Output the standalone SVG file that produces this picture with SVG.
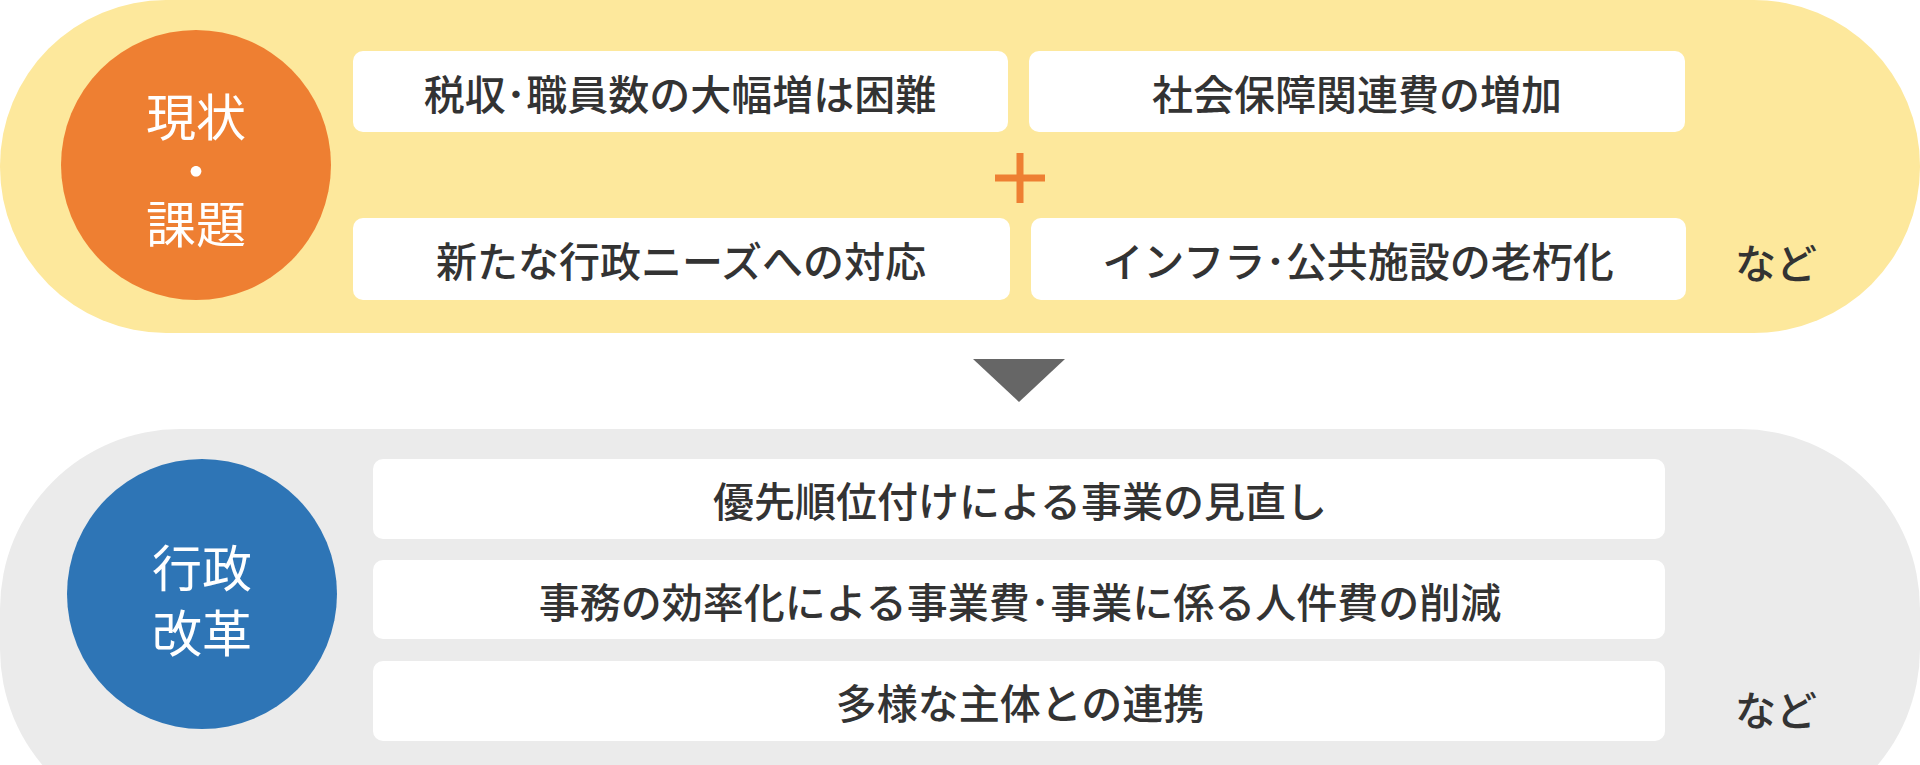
<svg xmlns="http://www.w3.org/2000/svg" width="1920" height="765" viewBox="0 0 1920 765">
<style>
.box{fill:#fff}
.t{font-family:"Noto Sans CJK JP","Noto Sans",sans-serif;font-size:41px;fill:#333;text-anchor:middle;dominant-baseline:central;font-weight:500}
.c{font-family:"Noto Sans CJK JP","Noto Sans",sans-serif;font-size:50px;fill:#fff;text-anchor:middle;dominant-baseline:central}
</style>
<g id="top">
<rect x="0" y="0" width="1920" height="333" rx="166" fill="#fde89c"/>
<circle cx="196" cy="165" r="135" fill="#ee7f32"/>
<text class="c" x="196" y="114">現状</text>
<text class="c" x="196" y="168" font-size="24">・</text>
<text class="c" x="196" y="221">課題</text>
<rect class="box" x="353" y="51" width="655" height="81" rx="10"/>
<text class="t" x="680" y="92">税収･職員数の大幅増は困難</text>
<rect class="box" x="1029" y="51" width="656" height="81" rx="10"/>
<text class="t" x="1357" y="92">社会保障関連費の増加</text>
<rect class="box" x="353" y="218" width="657" height="82" rx="10"/>
<text class="t" x="681" y="259">新たな行政ニーズへの対応</text>
<rect class="box" x="1031" y="218" width="655" height="82" rx="10"/>
<text class="t" x="1358" y="259">インフラ･公共施設の老朽化</text>
<path d="M1020 153V203M995 178H1045" stroke="#ee7f32" stroke-width="7"/>
<text class="t" x="1776" y="261" font-weight="400">など</text>
</g>
<g id="connectors">
<polygon points="973,359 1065,359 1019,402" fill="#666"/>
</g>
<g id="bottom">
<rect x="0" y="429" width="1920" height="400" rx="180" fill="#ebebeb"/>
<circle cx="202" cy="594" r="135" fill="#2e75b6"/>
<text class="c" x="202" y="565">行政</text>
<text class="c" x="202" y="630">改革</text>
<rect class="box" x="373" y="459" width="1292" height="80" rx="10"/>
<text class="t" x="1020" y="499">優先順位付けによる事業の見直し</text>
<rect class="box" x="373" y="560" width="1292" height="79" rx="10"/>
<text class="t" x="1020" y="600">事務の効率化による事業費･事業に係る人件費の削減</text>
<rect class="box" x="373" y="661" width="1292" height="80" rx="10"/>
<text class="t" x="1020" y="701">多様な主体との連携</text>
<text class="t" x="1776" y="708" font-weight="400">など</text>
</g>
</svg>
